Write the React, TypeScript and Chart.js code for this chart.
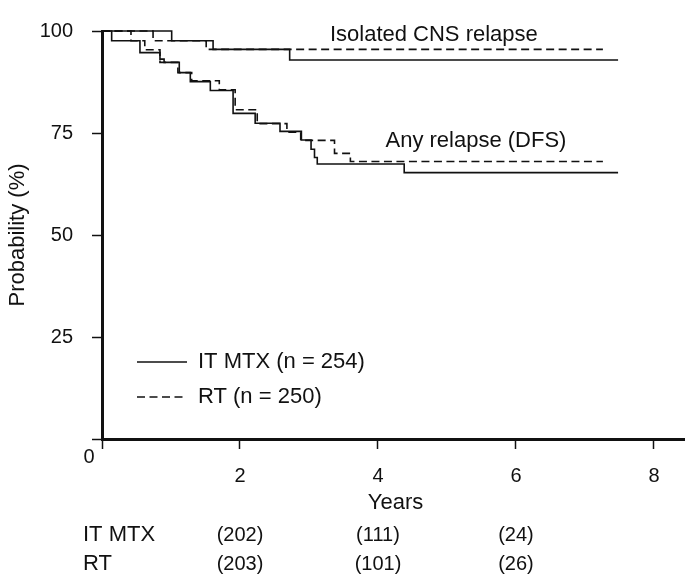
import React, { useEffect, useRef } from "react";
import { Chart, registerables } from "chart.js";

Chart.register(...registerables);

// ---------- data ----------
// Isolated CNS relapse
const cnsItmxYears = [0, 1.01, 1.61, 2.72, 7.48];
const cnsItmxProb = [100, 97.6, 95.5, 92.9, 92.9];
const cnsRtYears = [0, 0.74, 1.51, 7.26];
const cnsRtProb = [100, 97.6, 95.5, 95.5];

// Any relapse (DFS)
const dfsItmxYears = [0, 0.14, 0.55, 0.84, 0.9, 1.12, 1.28, 1.57, 1.9, 2.22, 2.58, 2.89, 3.03, 3.08, 3.12, 4.38, 7.48];
const dfsItmxProb = [100, 97.6, 94.7, 93.1, 92.3, 89.8, 87.6, 85.4, 79.8, 77.4, 75.4, 73.3, 71.0, 69.0, 67.4, 65.3, 65.3];
const dfsRtYears = [0, 0.42, 0.62, 0.84, 1.1, 1.3, 1.7, 1.93, 2.25, 2.68, 2.88, 3.37, 3.6, 7.26];
const dfsRtProb = [100, 97.6, 95.4, 92.3, 89.8, 87.8, 85.6, 80.7, 77.3, 75.2, 73.2, 70.0, 68.0, 68.0];

// axes
const xTicks = [0, 2, 4, 6, 8];
const yTicks = [0, 25, 50, 75, 100];

// legend / labels
const seriesNames = ["IT MTX (n = 254)", "RT (n = 250)"];
const curveLabels = ["Isolated CNS relapse", "Any relapse (DFS)"];

// numbers at risk
const riskGroups = ["IT MTX", "RT"];
const riskYears = [2, 4, 6];
const riskItmx = [202, 111, 24];
const riskRt = [203, 101, 26];

const INK = "#111111";
const FONT = '"Liberation Sans", Arial, Helvetica, sans-serif';
const DASH = [8, 4.5];

const toPoints = (xs: number[], ys: number[]) => xs.map((x, i) => ({ x, y: ys[i] }));

const textPlugin = {
  id: "kmTexts",
  afterDraw(chart: any) {
    const ctx: CanvasRenderingContext2D = chart.ctx;
    const xs = chart.scales.x;
    const ys = chart.scales.y;
    ctx.save();
    ctx.fillStyle = INK;
    ctx.strokeStyle = INK;
    ctx.textBaseline = "middle";

    // shared origin label
    ctx.font = `20px ${FONT}`;
    ctx.textAlign = "center";
    ctx.fillText("0", xs.left - 13, ys.bottom + 18);

    // y title
    ctx.save();
    ctx.font = `22px ${FONT}`;
    ctx.translate(18, (ys.top + ys.bottom) / 2);
    ctx.rotate(-Math.PI / 2);
    ctx.textAlign = "center";
    ctx.fillText("Probability (%)", 0, 0);
    ctx.restore();

    // x title
    ctx.font = `22px ${FONT}`;
    ctx.textAlign = "center";
    ctx.fillText("Years", (xs.left + xs.right) / 2 + 2, ys.bottom + 64);

    // curve labels
    ctx.fillText(curveLabels[0], xs.getPixelForValue(4.81), ys.getPixelForValue(99));
    ctx.fillText(curveLabels[1], xs.getPixelForValue(5.42), ys.getPixelForValue(73));

    // numbers at risk
    const rows = [riskItmx, riskRt];
    const rowY = [ys.bottom + 96, ys.bottom + 125];
    rows.forEach((vals, r) => {
      ctx.textAlign = "left";
      ctx.font = `22px ${FONT}`;
      ctx.fillText(riskGroups[r], 83, rowY[r]);
      ctx.textAlign = "center";
      ctx.font = `20px ${FONT}`;
      vals.forEach((v, i) => {
        ctx.fillText(`(${v})`, xs.getPixelForValue(riskYears[i]), rowY[r]);
      });
    });

    // legend
    const lx0 = xs.left + 35;
    const lx1 = xs.left + 85;
    const legY = [ys.bottom - 77, ys.bottom - 42];
    ctx.lineWidth = 1.6;
    seriesNames.forEach((name, i) => {
      ctx.setLineDash(i === 0 ? [] : DASH);
      ctx.beginPath();
      ctx.moveTo(lx0, legY[i]);
      ctx.lineTo(lx1, legY[i]);
      ctx.stroke();
      ctx.setLineDash([]);
      ctx.textAlign = "left";
      ctx.font = `22px ${FONT}`;
      ctx.fillText(name, lx1 + 11, legY[i]);
    });
    ctx.restore();
  },
};

export default function App() {
  const ref = useRef<HTMLCanvasElement | null>(null);

  useEffect(() => {
    if (!ref.current) return;
    const mk = (xs: number[], ys: number[], dashed: boolean) => ({
      data: toPoints(xs, ys),
      borderColor: INK,
      borderWidth: 1.6,
      borderDash: dashed ? DASH : [],
      pointRadius: 0,
      pointHoverRadius: 0,
      stepped: "before" as const,
      fill: false,
      clip: false as any,
      tension: 0,
    });

    const chart = new Chart(ref.current, {
      type: "line",
      data: {
        datasets: [
          mk(cnsItmxYears, cnsItmxProb, false),
          mk(cnsRtYears, cnsRtProb, true),
          mk(dfsItmxYears, dfsItmxProb, false),
          mk(dfsRtYears, dfsRtProb, true),
        ],
      },
      options: {
        animation: false,
        responsive: false,
        devicePixelRatio: 1,
        layout: { padding: { top: 13, left: 0, right: 0, bottom: 0 } },
        plugins: { legend: { display: false }, tooltip: { enabled: false } },
        scales: {
          x: {
            type: "linear",
            min: 0,
            max: 8.45,
            afterFit: (s: any) => {
              s.height = 139;
            },
            afterBuildTicks: (s: any) => {
              s.ticks = xTicks.map((v) => ({ value: v }));
            },
            grid: {
              drawOnChartArea: false,
              drawTicks: true,
              tickLength: 10,
              tickWidth: 1.5,
              tickColor: INK,
            },
            border: { display: true, color: INK, width: 3 },
            ticks: {
              color: INK,
              font: { family: FONT, size: 20 },
              padding: 15,
              maxRotation: 0,
              autoSkip: false,
              callback: (v: any) => (Number(v) === 0 ? "" : String(v)),
            },
          },
          y: {
            type: "linear",
            min: 0,
            max: 100,
            afterFit: (s: any) => {
              s.width = 102;
            },
            afterBuildTicks: (s: any) => {
              s.ticks = yTicks.map((v) => ({ value: v }));
            },
            grid: {
              drawOnChartArea: false,
              drawTicks: true,
              tickLength: 10,
              tickWidth: 1.5,
              tickColor: INK,
            },
            border: { display: true, color: INK, width: 3 },
            ticks: {
              color: INK,
              font: { family: FONT, size: 20 },
              padding: 19,
              autoSkip: false,
              callback: (v: any) => (Number(v) === 0 ? "" : String(v)),
            },
          },
        },
      },
      plugins: [textPlugin],
    });
    return () => chart.destroy();
  }, []);

  return (
    <div style={{ position: "absolute", left: 0, top: 0, width: 685, height: 578, background: "#fff" }}>
      <canvas ref={ref} width={685} height={578} style={{ display: "block" }} />
    </div>
  );
}
